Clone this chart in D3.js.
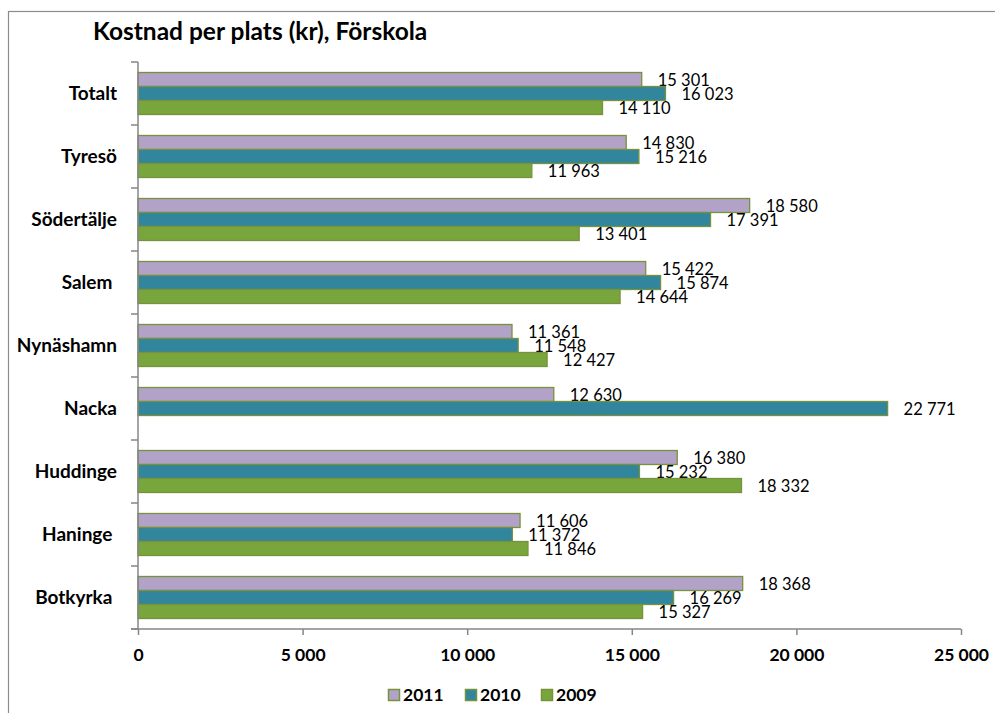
<!DOCTYPE html>
<html>
<head>
<meta charset="utf-8">
<script src="https://cdn.jsdelivr.net/npm/d3@7"></script>
<style>
  html, body { margin: 0; padding: 0; background: #fff; }
  svg { display: block; font-family: Lato, "Open Sans", sans-serif; }
  .cat { white-space: pre; }
</style>
</head>
<body>
<svg id="chart" width="995" height="713"></svg>
<script>
// Municipalities, listed top to bottom as shown
const categories = ["Totalt", "Tyresö", "Södertälje", "Salem ", "Nynäshamn", "Nacka", "Huddinge", "Haninge ", "Botkyrka "];
const seriesNames = ["2011", "2010", "2009"];
const values2011 = [15301, 14830, 18580, 15422, 11361, 12630, 16380, 11606, 18368];
const values2010 = [16023, 15216, 17391, 15874, 11548, 22771, 15232, 11372, 16269];
const values2009 = [14110, 11963, 13401, 14644, 12427, null, 18332, 11846, 15327];
const xTicks = [0, 5000, 10000, 15000, 20000, 25000];
const colors = ["#B3A2C7", "#31859C", "#79A63C"];
const title = "Kostnad per plats (kr), Förskola";

const seriesValues = [values2011, values2010, values2009];
const fmt = v => d3.format(",")(v).replace(/,/g, " ");

const svg = d3.select("#chart");

// outer chart frame
svg.append("rect")
  .attr("x", 8.5).attr("y", 11.5).attr("width", 1000).attr("height", 720)
  .attr("fill", "none").attr("stroke", "#8c8c8c").attr("stroke-width", 1.2);

svg.append("text")
  .attr("x", 93).attr("y", 40)
  .attr("font-size", 24.5).attr("font-weight", "bold").attr("fill", "#000")
  .text(title);

const plot = { left: 138, right: 961, top: 62, bottom: 629 };

const x = d3.scaleLinear().domain([0, 25000]).range([plot.left, plot.right]);
const y = d3.scaleBand().domain(categories).range([plot.top, plot.bottom])
  .paddingInner(1 / 3).paddingOuter(1 / 6);
const ySeries = d3.scaleBand().domain(seriesNames).range([0, y.bandwidth()]);

// bars with their value labels
seriesNames.forEach((name, si) => {
  const g = svg.append("g");
  const rows = categories.map((c, i) => ({ c, v: seriesValues[si][i] })).filter(d => d.v != null);
  g.selectAll("rect").data(rows).join("rect")
    .attr("x", x(0))
    .attr("y", d => y(d.c) + ySeries(name))
    .attr("width", d => x(d.v) - x(0))
    .attr("height", ySeries.bandwidth())
    .attr("fill", colors[si])
    .attr("stroke", "#76923C").attr("stroke-width", 1.3);
  g.selectAll("text").data(rows).join("text")
    .attr("x", d => x(d.v) + 16)
    .attr("y", d => y(d.c) + ySeries(name) + ySeries.bandwidth() / 2 + 1)
    .attr("dy", "0.35em")
    .attr("font-size", 16.5).attr("fill", "#000")
    .text(d => fmt(d.v));
});

// category axis
const yAxis = svg.append("g").attr("transform", `translate(${plot.left},0)`);
yAxis.append("line")
  .attr("x1", 0).attr("x2", 0).attr("y1", plot.top).attr("y2", plot.bottom)
  .attr("stroke", "#868686").attr("stroke-width", 1.5);
const bounds = categories.map((c, i) => plot.top + i * y.step());
bounds.push(plot.bottom);
yAxis.selectAll("line.tick").data(bounds).join("line").attr("class", "tick")
  .attr("x1", -7).attr("x2", 0).attr("y1", d => d).attr("y2", d => d)
  .attr("stroke", "#868686").attr("stroke-width", 1.5);
yAxis.selectAll("text").data(categories).join("text")
  .attr("class", "cat")
  .attr("x", -21)
  .attr("y", d => y(d) + y.bandwidth() / 2)
  .attr("dy", "0.35em")
  .attr("text-anchor", "end")
  .attr("font-size", 19).attr("font-weight", "bold").attr("fill", "#000")
  .text(d => d);

// value axis
const xAxis = svg.append("g").attr("transform", `translate(0,${plot.bottom})`)
  .call(d3.axisBottom(x).tickValues(xTicks).tickSize(6).tickPadding(14).tickFormat(fmt));
xAxis.select(".domain").attr("d", `M${plot.left - 7},0H${plot.right}`).attr("stroke", "#868686").attr("stroke-width", 1.5);
xAxis.selectAll(".tick line").attr("stroke", "#868686").attr("stroke-width", 1.5);
xAxis.selectAll(".tick text")
  .attr("font-family", "Lato, sans-serif")
  .attr("font-size", 17.5).attr("font-weight", "bold").attr("fill", "#000");

// legend
const legend = svg.append("g").attr("transform", "translate(388,689)");
const legendX = [0, 77, 153];
seriesNames.forEach((name, i) => {
  const item = legend.append("g").attr("transform", `translate(${legendX[i]},0)`);
  item.append("rect").attr("x", 0.5).attr("y", 0.5).attr("width", 11).attr("height", 11)
    .attr("fill", colors[i]).attr("stroke", "#76923C").attr("stroke-width", 1.5);
  item.append("text").attr("x", 15).attr("y", 6).attr("dy", "0.35em")
    .attr("font-size", 17.5).attr("font-weight", "bold").attr("fill", "#000")
    .text(name);
});
</script>
</body>
</html>
